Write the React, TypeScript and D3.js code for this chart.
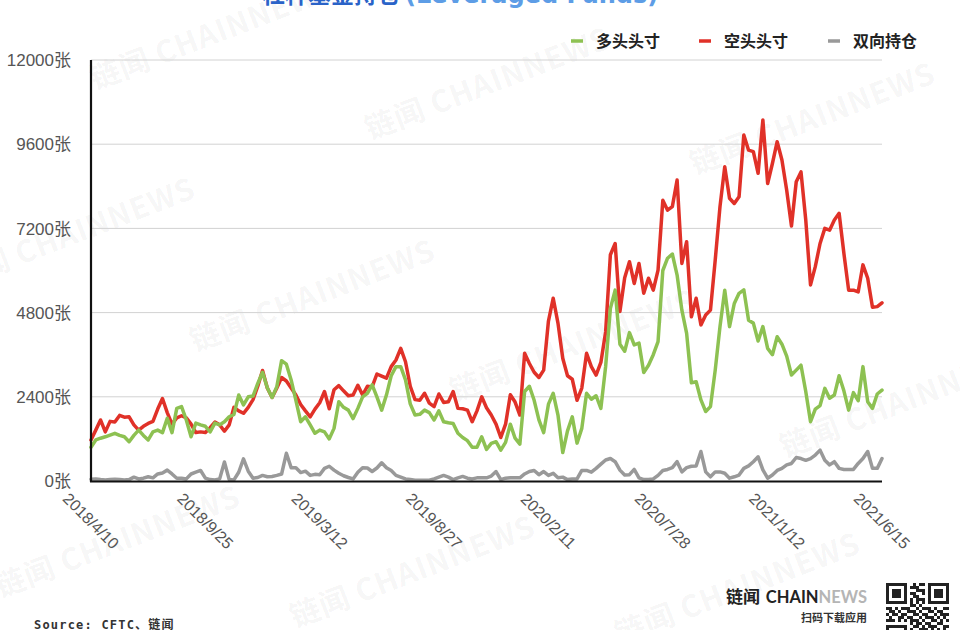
import React from "react";
import * as d3 from "d3";

// ---- data ----
const startDate = "2018-04-10";
const tickLabels = ["2018/4/10", "2018/9/25", "2019/3/12", "2019/8/27", "2020/2/11", "2020/7/28", "2021/1/12", "2021/6/15"];
const yTicks = [0, 2400, 4800, 7200, 9600, 12000];
const seriesNames = ["多头头寸", "空头头寸", "双向持仓"];
const seriesColors = ["#8dc152", "#e03128", "#999999"];

const longPos = [
  960, 1170, 1220, 1260, 1310, 1360, 1300, 1260, 1120, 1300,
  1450, 1300, 1170, 1400, 1450, 1380, 1790, 1380, 2070, 2120,
  1740, 1260, 1650, 1600, 1560, 1400, 1650, 1600, 1690, 1830,
  1900, 2450, 2170, 2400, 2420, 2780, 3100, 2660, 2380, 2690,
  3430, 3330, 2880, 2300, 1690, 1830, 1600, 1360, 1450, 1400,
  1200, 1500, 2260, 2100, 2020, 1780, 2070, 2400, 2500, 2740,
  2400, 2020, 2450, 3000, 3260, 3260, 2880, 2200, 1880, 1900,
  2020, 1950, 1740, 2000, 1690, 1660, 1640, 1360, 1240, 1150,
  960, 960, 1260, 900, 1070, 1120, 880, 1100, 1620, 1220,
  1050, 2550, 2700, 2300, 1740, 1380, 2190, 2500, 1880, 810,
  1430, 1830, 1080, 1500, 2500, 2330, 2430, 2070, 3260, 4920,
  5440, 3900, 3700, 4230, 3880, 3930, 3090, 3300, 3600, 3970,
  6000, 6350, 6470, 5870, 4870, 4210, 2800, 2830, 2310, 1980,
  2120, 3160, 4400, 5440, 4400, 5060, 5350, 5450, 4580, 4500,
  3990, 4400, 3780, 3600, 4110, 3900, 3560, 3020, 3160, 3300,
  2550, 1690, 2050, 2150, 2640, 2360, 2450, 3000, 2570, 2020,
  2520, 2290, 3260, 2260, 2070, 2480, 2590,
];

const shortPos = [
  1170, 1450, 1740, 1400, 1700, 1680, 1870, 1820, 1830, 1600,
  1450, 1560, 1640, 1700, 2050, 2350, 1950, 1620, 1800, 1860,
  1800, 1620, 1380, 1400, 1380, 1520, 1680, 1600, 1420, 1600,
  2100, 2000, 1930, 2100, 2320, 2700, 3150, 2650, 2380, 2650,
  2950, 2850, 2650, 2450, 2180, 2000, 1830, 2050, 2230, 2550,
  2060, 2600, 2720, 2570, 2430, 2450, 2730, 2450, 2700, 2680,
  3050, 2990, 2930, 3260, 3450, 3780, 3400, 2700, 2320, 2300,
  2500, 2220, 2120, 2480, 2240, 2260, 2550, 2070, 2060, 2020,
  1690, 2000, 2400, 2090, 1880, 1620, 1240, 1620, 2460, 2250,
  1880, 3640, 3350, 3100, 2950, 3160, 4560, 5210, 4500, 3500,
  3000, 2900, 2300, 2650, 3640, 3260, 3020, 3380, 4250, 6450,
  6770, 4830, 5790, 6250, 5630, 6200, 5350, 5780, 5440, 6010,
  8000, 7720, 7820, 8580, 6200, 6820, 4680, 5210, 4450, 4730,
  4870, 6300, 7820, 8960, 8060, 7910, 8100, 9860, 9430, 9390,
  8770, 10290, 8480, 9050, 9670, 9150, 8290, 7270, 8530, 8810,
  7440, 5590, 6110, 6770, 7200, 7150, 7440, 7630, 6490, 5440,
  5440, 5390, 6160, 5780, 4950, 4970, 5080,
];

const spreadPos = [
  50, 60, 40, 30, 40, 50, 40, 30, 40, 110,
  60, 80, 120, 90, 200, 230, 310, 200, 80, 80,
  60, 200, 250, 300, 80, 40, 30, 60, 540, 40,
  30, 250, 630, 280, 80, 100, 160, 120, 130, 160,
  200, 790, 380, 380, 240, 280, 160, 190, 180, 360,
  420, 310, 220, 150, 100, 60, 250, 380, 370, 270,
  370, 520, 380, 300, 160, 110, 60, 40, 20, 20,
  20, 20, 60, 110, 160, 110, 40, 90, 130, 80,
  60, 90, 90, 90, 140, 270, 40, 80, 90, 90,
  90, 200, 270, 300, 180, 270, 160, 220, 90, 110,
  40, 60, 60, 300, 300, 250, 360, 480, 600, 640,
  550, 310, 170, 180, 330, 90, 40, 40, 60, 160,
  300, 330, 380, 550, 260, 380, 420, 430, 840, 260,
  120, 260, 260, 220, 80, 120, 170, 360, 430, 550,
  690, 320, 80, 170, 300, 360, 460, 500, 670, 640,
  590, 640, 740, 880, 590, 460, 550, 360, 330, 330,
  330, 500, 640, 840, 360, 360, 640,
];

const qrRows = [
  "111111100101101111111",
  "100000101110001000001",
  "101110100011101011101",
  "101110101100101011101",
  "101110100110001011101",
  "100000101011101000001",
  "111111101010101111111",
  "000000001101000000000",
  "110101110010111010011",
  "011010011101001101100",
  "101101100110110010111",
  "010011011001011101010",
  "111010101110100110101",
  "000000001011011001100",
  "111111100110101110011",
  "100000101001110101010",
];

const watermarks = [
  [95, 90], [370, 140], [695, 175], [-45, 290], [195, 352], [455, 402],
  [785, 458], [0, 598], [295, 628], [620, 645],
];

const FONT = "'Liberation Sans', Arial, 'Noto Sans CJK SC', sans-serif";
const CJK = "'Noto Sans CJK SC', 'Liberation Sans', sans-serif";

export default function App() {
  const W = 960, H = 630;
  const parse = d3.timeParse("%Y-%m-%d");
  const tParse = d3.timeParse("%Y/%m/%d");
  const start = parse(startDate) as Date;
  const dates = longPos.map((_, i) => d3.timeDay.offset(start, 7 * i));
  const x = d3.scaleTime().domain([dates[0], dates[dates.length - 1]]).range([91, 882]);
  const y = d3.scaleLinear().domain([0, 12000]).range([481, 60]);
  const line = d3.line<number>().x((_, i) => x(dates[i])).y((d) => y(d));
  const all = [longPos, shortPos, spreadPos];
  const drawOrder = [1, 0, 2];

  return (
    <svg width={W} height={H} style={{ position: "absolute", left: 0, top: 0, background: "#fff" }}>
      <rect x={0} y={0} width={W} height={H} fill="#fff" />
      {/* watermarks */}
      {watermarks.map(([wx, wy], i) => (
        <text key={"w" + i} transform={`translate(${wx},${wy}) rotate(-21)`} fontFamily={CJK} fontWeight={700}
          fontSize={30} fill="#000" fillOpacity={0.05} letterSpacing={1}>链闻 CHAINNEWS</text>
      ))}
      {/* title (cut off at top) */}
      <text x={262} y={3} fontFamily={CJK} fontWeight={700} fontSize={23} fill="#2a63c8">杠杆基金持仓</text>
      <text x={405} y={3} fontFamily="'DejaVu Sans', sans-serif" fontWeight={700} fontSize={24} fill="#5d9de6">(Leveraged Funds)</text>
      {/* gridlines */}
      {yTicks.filter((t) => t > 0).map((t) => (
        <line key={t} x1={91} x2={882} y1={y(t)} y2={y(t)} stroke="#d2d2d2" strokeWidth={1} />
      ))}
      {/* y labels */}
      {yTicks.map((t) => (
        <text key={"yl" + t} x={71} y={y(t)} dy="0.36em" textAnchor="end" fontFamily={FONT} fontSize={17} fill="#555">
          {t}张
        </text>
      ))}
      {/* x labels */}
      {tickLabels.map((l) => {
        const d = tParse(l) as Date;
        return (
          <text key={l} transform={`translate(${x(d)},521) rotate(45)`} textAnchor="middle" dy="0.35em"
            fontFamily={FONT} fontSize={16} fill="#555">{l}</text>
        );
      })}
      {/* lines */}
      {drawOrder.map((k) => (
        <path key={"s" + k} d={line(all[k]) || ""} fill="none" stroke={seriesColors[k]} strokeWidth={3.5}
          strokeLinejoin="round" strokeLinecap="round" />
      ))}
      {/* axes */}
      <line x1={91} x2={91} y1={60} y2={482} stroke="#111" strokeWidth={2.2} />
      <line x1={90} x2={882} y1={481.5} y2={481.5} stroke="#111" strokeWidth={2} />
      {/* legend */}
      {seriesNames.map((n, i) => {
        const lx = [571, 699, 828][i];
        return (
          <g key={n}>
            <line x1={lx} x2={lx + 12} y1={41} y2={41} stroke={seriesColors[i]} strokeWidth={3.5} />
            <text x={lx + 25} y={41} dy="0.36em" fontFamily={CJK} fontWeight={700} fontSize={16} fill="#222">{n}</text>
          </g>
        );
      })}
      {/* source */}
      <text x={34} y={629} fontFamily="'DejaVu Sans Mono', 'Noto Sans CJK SC', monospace" fontWeight={700} fontSize={12}
        fill="#333" letterSpacing={1.2}>Source: CFTC、链闻</text>
      {/* logo */}
      <text x={726} y={603} fontFamily={CJK} fontWeight={700} fontSize={17} fill="#222">链闻</text>
      <text x={867} y={603} textAnchor="end" fontFamily="Lato, 'Liberation Sans', sans-serif" fontWeight={700} fontSize={16.5}>
        <tspan fill="#222">CHAIN</tspan><tspan fill="#b5b5b5">NEWS</tspan>
      </text>
      <text x={867} y={622} textAnchor="end" fontFamily={CJK} fontWeight={700} fontSize={11} fill="#333">扫码下载应用</text>
      {qrRows.map((row, r) =>
        row.split("").map((c, ci) =>
          c === "1" ? <rect key={`q${r}-${ci}`} x={886 + ci * 3} y={583 + r * 3} width={3} height={3} fill="#222" /> : null
        )
      )}
    </svg>
  );
}
